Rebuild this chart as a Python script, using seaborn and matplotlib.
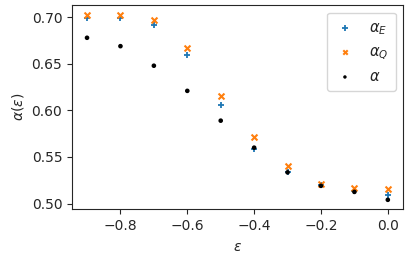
import matplotlib
matplotlib.use("Agg")
import matplotlib.pyplot as plt
import pandas as pd
import seaborn as sns

sns.set_style("ticks")
plt.rcParams["font.family"] = ["DejaVu Sans"]
plt.rcParams["font.size"] = 10
plt.rcParams["mathtext.fontset"] = "dejavusans"

eps = [-0.9, -0.8, -0.7, -0.6, -0.5, -0.4, -0.3, -0.2, -0.1, 0.0]
alpha_e = [0.699, 0.699, 0.692, 0.659, 0.606, 0.559, 0.534, 0.5195, 0.513, 0.509]
alpha_q = [0.702, 0.703, 0.697, 0.667, 0.615, 0.571, 0.5405, 0.5205, 0.5165, 0.5155]
alpha_0 = [0.678, 0.669, 0.648, 0.621, 0.589, 0.560, 0.5335, 0.519, 0.5125, 0.504]

df = pd.DataFrame({"eps": eps, "aE": alpha_e, "aQ": alpha_q, "a": alpha_0})

fig = plt.figure(figsize=(4.09, 2.62), dpi=100)
ax = fig.add_axes([0.176, 0.202, 0.809, 0.778])

sns.scatterplot(data=df, x="eps", y="aE", marker="+", color="#1f77b4", s=25,
                linewidth=1.3, label=r"$\alpha_E$", ax=ax)
sns.scatterplot(data=df, x="eps", y="aQ", marker="x", color="#ff7f0e", s=18,
                linewidth=1.5, label=r"$\alpha_Q$", ax=ax)
sns.scatterplot(data=df, x="eps", y="a", marker="o", color="black", s=11,
                edgecolor="none", label=r"$\alpha$", ax=ax)

ax.set_xticks([-0.8, -0.6, -0.4, -0.2, 0.0])
ax.set_yticks([0.50, 0.55, 0.60, 0.65, 0.70])
ax.set_xlabel(r"$\varepsilon$", fontsize=10, labelpad=5)
ax.set_ylabel(r"$\alpha(\varepsilon)$", fontsize=10)
for s in ax.spines.values():
    s.set_visible(True)
ax.legend(loc="upper right", fontsize=10.5, markerscale=0.75, handlelength=1.4,
          handletextpad=0.95, borderpad=0.5, labelspacing=0.5)

fig.savefig("out.png", dpi=100)
plt.close(fig)
